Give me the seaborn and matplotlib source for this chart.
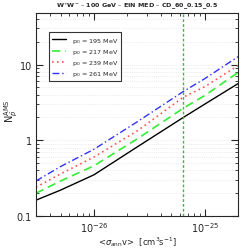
import numpy as np
import pandas as pd
import matplotlib
matplotlib.use('Agg')
import matplotlib.pyplot as plt
import seaborn as sns

# annihilation cross section grid [cm^3 s^-1]
sigma_v = [3.0e-27, 5.0e-27, 1.0e-26, 2.5e-26, 6.4e-26, 1.0e-25, 2.0e-25]

# number of antiprotons for each p0
n_195 = [0.162, 0.22, 0.35, 0.83, 2.0, 3.0, 5.6]
n_217 = [0.20, 0.29, 0.46, 1.06, 2.65, 3.9, 7.85]
n_239 = [0.24, 0.36, 0.60, 1.35, 3.7, 5.1, 9.7]
n_261 = [0.29, 0.45, 0.76, 1.78, 4.4, 6.5, 12.7]
p0_labels = ['p$_0$ = 195 MeV', 'p$_0$ = 217 MeV', 'p$_0$ = 239 MeV', 'p$_0$ = 261 MeV']
sigma_line = 6.4e-26

sns.set_style('ticks')
plt.rcParams['font.family'] = ['DejaVu Sans']

df = pd.DataFrame({
    'sigma_v': sigma_v * 4,
    'N': n_195 + n_217 + n_239 + n_261,
    'p0': sum([[lab] * len(sigma_v) for lab in p0_labels], []),
})

fig = plt.figure(figsize=(2.53, 2.53), dpi=100)
ax = fig.add_axes([0.142, 0.142, 0.799, 0.803])

styles = {
    p0_labels[0]: dict(color='black', ls='-', lw=1.0),
    p0_labels[1]: dict(color='#33ee33', ls=(0, (5, 3)), lw=1.2),
    p0_labels[2]: dict(color='#ff5555', ls=(0, (1, 2)), lw=1.2),
    p0_labels[3]: dict(color='#3333ff', ls=(0, (5, 2, 1, 2)), lw=1.0),
}
for lab in p0_labels:
    sub = df[df['p0'] == lab]
    sns.lineplot(data=sub, x='sigma_v', y='N', ax=ax, label=lab, **styles[lab])

ax.axvline(sigma_line, color='#55aa55', ls=(0, (2, 1.5)), lw=1.0)

ax.set_xscale('log')
ax.set_yscale('log')

# ticks only inside the visible range
ax.set_xticks([1e-26, 1e-25], [r'$10^{-26}$', r'$10^{-25}$'])
ax.set_xticks([k * 1e-27 for k in range(3, 10)] + [k * 1e-26 for k in range(2, 10)] + [2e-25],
              minor=True)
ax.set_yticks([0.1, 1, 10], ['0.1', '1', '10'])
ax.set_yticks([k * 0.1 for k in range(2, 10)] + list(range(2, 10)) + [20, 30, 40], minor=True)
ax.set_xlim(3e-27, 2e-25)
ax.set_ylim(0.1, 48)

ax.grid(True, which='both', axis='y', color='#dddddd', ls=':', lw=0.5)
ax.tick_params(which='both', direction='in', top=True, right=True, labelsize=7, pad=3)
ax.tick_params(which='major', length=5)
ax.tick_params(which='minor', length=2.5)
for s in ax.spines.values():
    s.set_linewidth(0.8)

ax.set_xlabel(r'<$\sigma_{\rm ann}$v>  [cm$^3$s$^{-1}$]', fontsize=6)
ax.xaxis.set_label_coords(0.5, -0.09)
ax.set_ylabel(r'N$_{\bar{p}}^{\rm AMS}$', fontsize=7)
ax.yaxis.set_label_coords(-0.08, 0.52)
ax.set_title(r'W$^{+}$W$^{-}$ – 100 GeV – EIN MED – CD_60_0.15_0.5', fontsize=4.6, fontweight='bold', pad=4)

leg = ax.legend(loc='upper left', fontsize=4.6, frameon=True, fancybox=False,
                edgecolor='black', handlelength=2.2, borderpad=0.5, labelspacing=0.35,
                bbox_to_anchor=(0.05, 0.92))
leg.get_frame().set_linewidth(0.8)

fig.savefig('out.png', dpi=100)
